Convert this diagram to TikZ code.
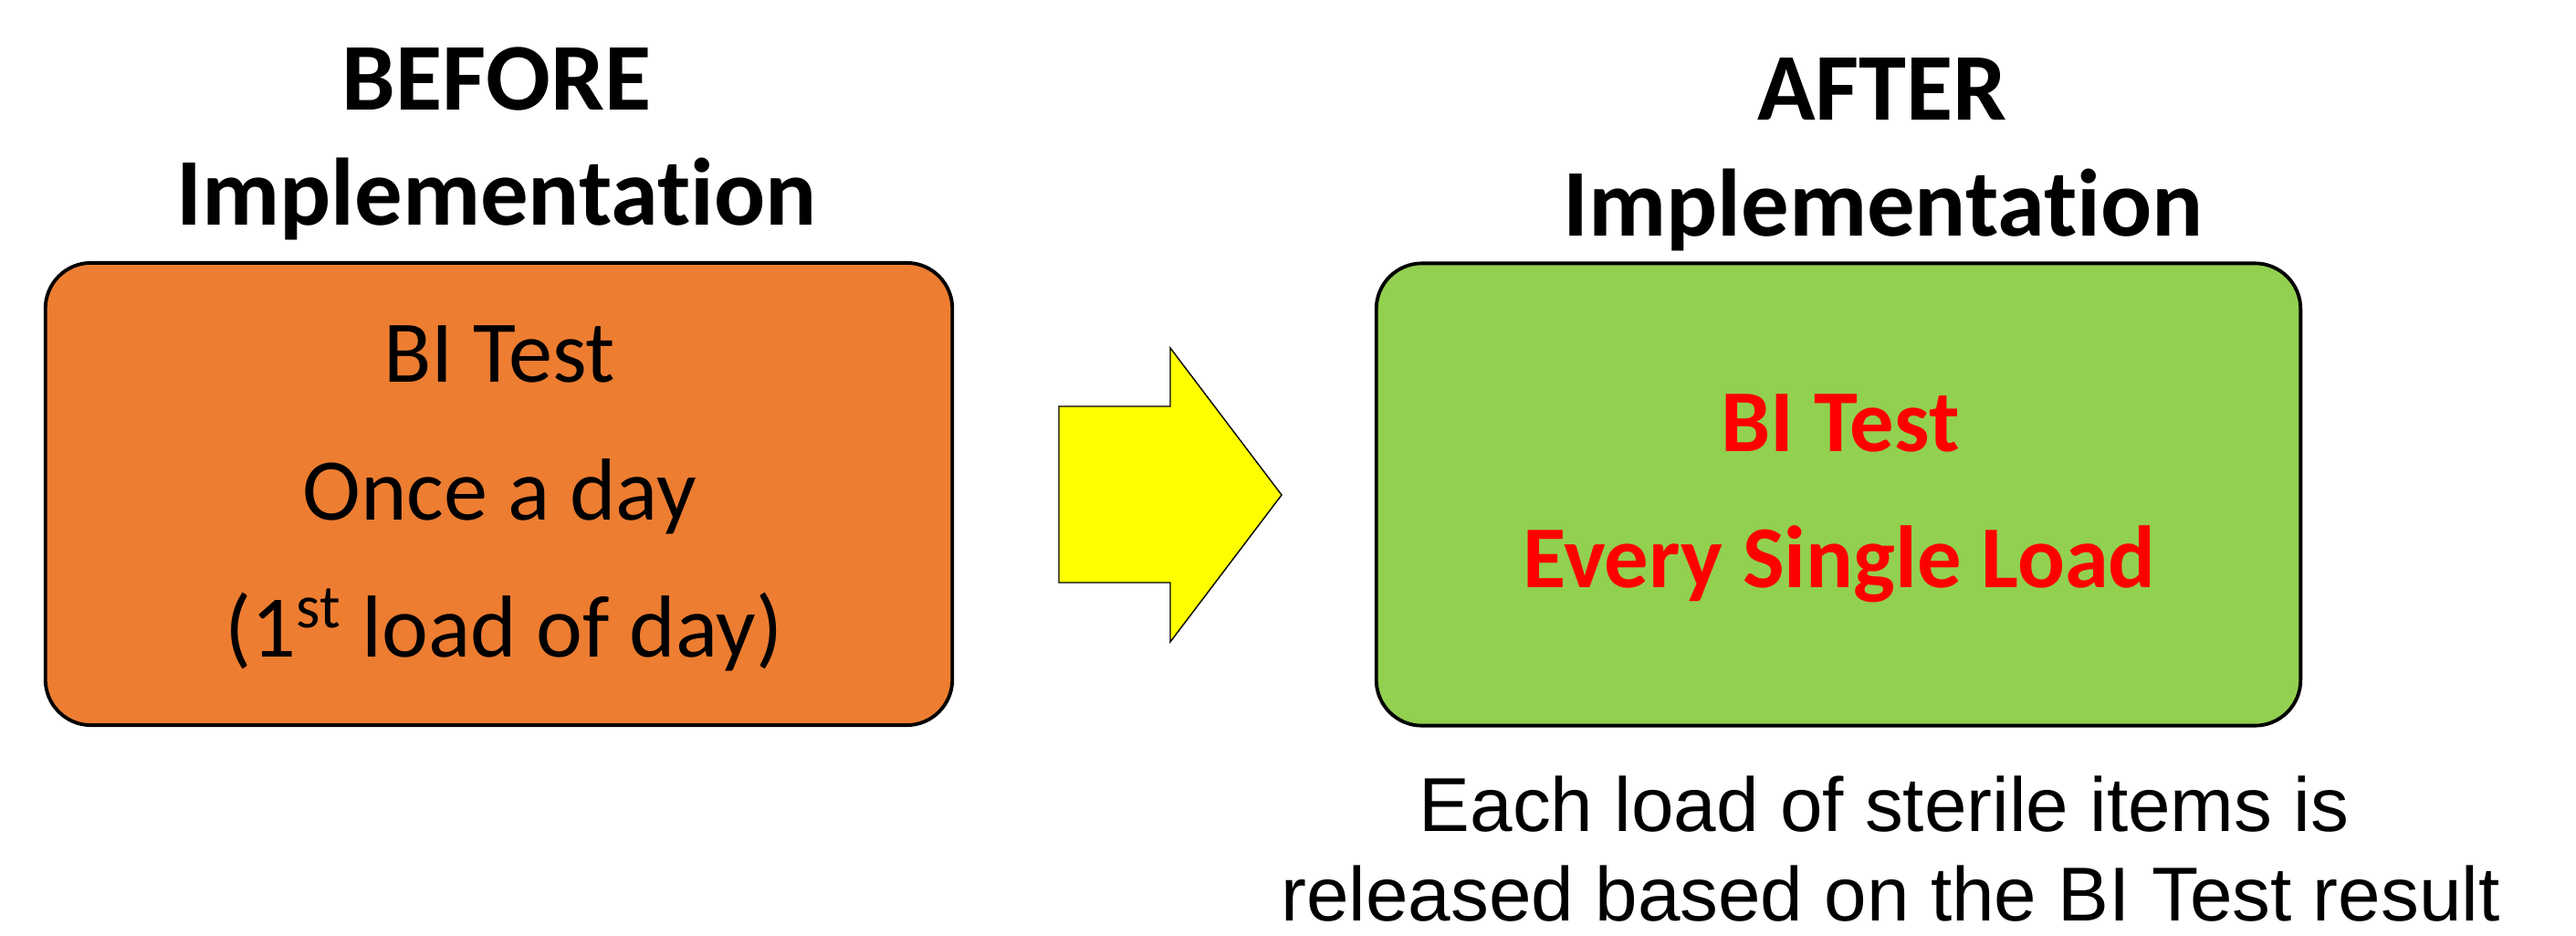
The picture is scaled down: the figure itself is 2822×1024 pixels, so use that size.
\documentclass[tikz,border=0pt]{standalone}
\usepackage{fontspec}
\setmainfont[RawFeature={-liga;-clig;-dlig;-calt}]{Carlito}
\newfontfamily\notefont{Liberation Sans}
\usepackage{xcolor}
\definecolor{boxorange}{HTML}{ED7D31}
\definecolor{boxgreen}{HTML}{92D050}
\definecolor{arrowyellow}{HTML}{FFFF00}
\definecolor{alertred}{HTML}{FF0000}
\newcommand{\impl}{Implementat\kern0pt ion}

\begin{document}
\begin{tikzpicture}[
  x=0.01cm, y=-0.01cm,
  panel/.style={draw, line width=1.1pt, rounded corners=0.5cm, minimum height=5.06cm},
  heading/.style={anchor=base, font=\fontsize{29.8}{36}\selectfont\bfseries},
  boxtext/.style={anchor=base, font=\fontsize{27.4}{33}\selectfont},
  alerttext/.style={anchor=base, text=alertred, font=\fontsize{27.5}{33}\selectfont\bfseries},
  notetext/.style={anchor=base, inner sep=0pt, font=\notefont\fontsize{23.8}{28.5}\selectfont},
  blockarrow/.style={draw, line width=0.4pt, fill=arrowyellow}
]
\useasboundingbox (0,0) rectangle (2822,1024);

% before
\node[heading] (beforeA) at (544,120) {BEFORE};
\node[heading] (beforeB) at (544,246) {\impl};
\node[panel, fill=boxorange, minimum width=9.93cm] (before) at (546.5,541) {};
\node[boxtext] (onceA) at (547,418) {BI Test};
\node[boxtext] (onceB) at (547,569) {Once a day};
\node[boxtext] (onceC) at (552,719) {(1\textsuperscript{st} load of day)};

% arrow
\draw[blockarrow] (1160,445) -- (1282,445) -- (1282,381) -- (1404,542)
  -- (1282,703) -- (1282,638) -- (1160,638) -- cycle;

% after
\node[heading] (afterA) at (2062,131) {AFTER};
\node[heading] (afterB) at (2063,258) {\impl};
\node[panel, fill=boxgreen, minimum width=10.12cm] (after) at (2014,541.5) {};
\node[alerttext] (everyA) at (2016,494) {BI Test};
\node[alerttext] (everyB) at (2015,643) {Every Single Load};

% note
\node[notetext] (noteA) at (2064,910) {Each load of sterile items is};
\node[notetext] (noteB) at (2071,1008) {released based on the BI Test result};
\end{tikzpicture}
\end{document}
